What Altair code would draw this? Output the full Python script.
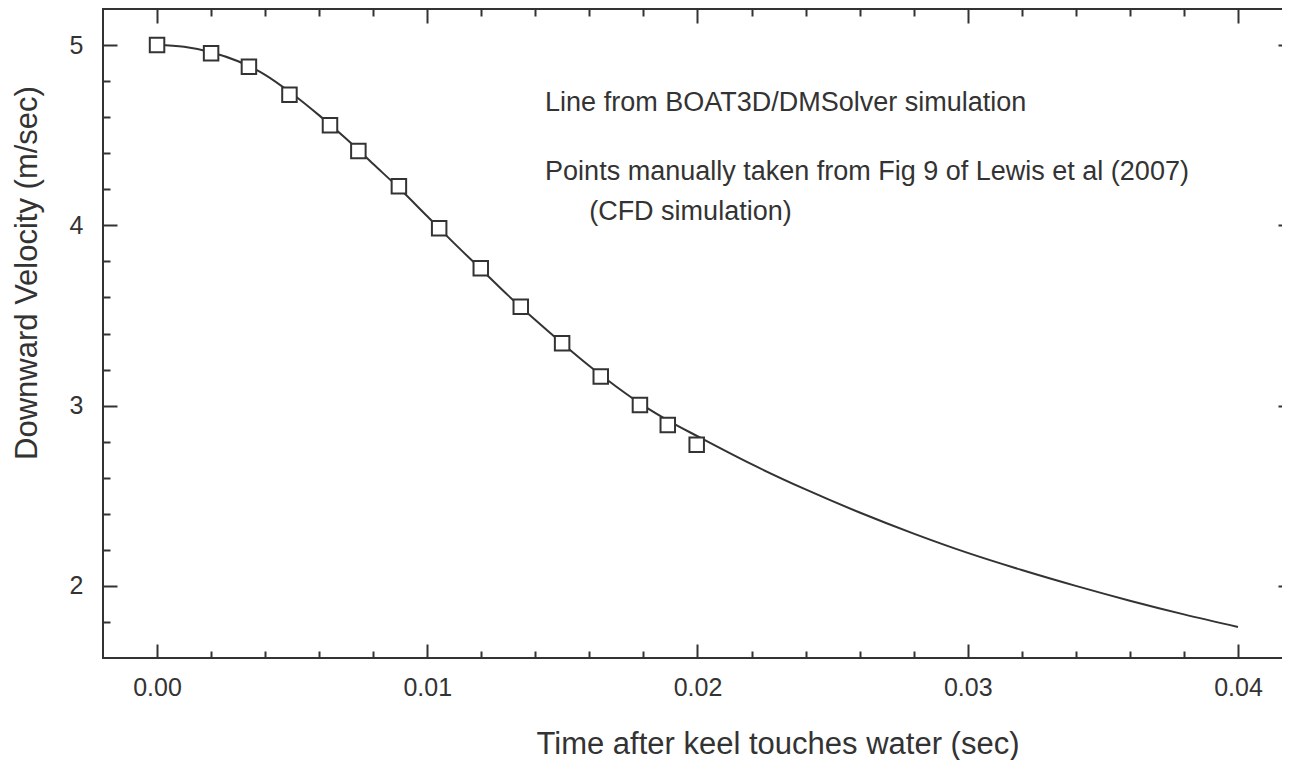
import altair as alt
import pandas as pd

# ---- data ----
line_t = [0.000, 0.001, 0.002, 0.003, 0.004, 0.005, 0.006, 0.007, 0.008, 0.009,
          0.010, 0.011, 0.012, 0.013, 0.014, 0.015, 0.016, 0.017, 0.018, 0.019,
          0.020, 0.022, 0.024, 0.026, 0.028, 0.030, 0.032, 0.034, 0.036, 0.038, 0.040]
line_v = [5.000, 4.990, 4.960, 4.910, 4.835, 4.730, 4.610, 4.480, 4.340, 4.200,
          4.050, 3.900, 3.755, 3.610, 3.475, 3.345, 3.220, 3.105, 3.000, 2.910,
          2.830, 2.675, 2.535, 2.407, 2.290, 2.183, 2.088, 2.000, 1.918, 1.842, 1.772]

point_t = [0.0000, 0.0020, 0.0034, 0.0049, 0.0064, 0.00745, 0.00895, 0.01044,
           0.01198, 0.01346, 0.01499, 0.01642, 0.01787, 0.0189, 0.01997]
point_v = [5.000, 4.954, 4.880, 4.725, 4.555, 4.412, 4.217, 3.984,
           3.762, 3.549, 3.346, 3.161, 3.004, 2.893, 2.783]

x_major = [0.00, 0.01, 0.02, 0.03, 0.04]
x_minor = [0.002, 0.004, 0.006, 0.008, 0.012, 0.014, 0.016, 0.018,
           0.022, 0.024, 0.026, 0.028, 0.032, 0.034, 0.036, 0.038]
y_major = [2, 3, 4, 5]
y_minor = [1.8, 2.2, 2.4, 2.6, 2.8, 3.2, 3.4, 3.6, 3.8, 4.2, 4.4, 4.6, 4.8]

note1_text = ["Line from BOAT3D/DMSolver simulation"]
note1_t = [0.01436]
note1_v = [4.634]
note2_text = ["Points manually taken from Fig 9 of Lewis et al (2007)", "(CFD simulation)"]
note2_t = [0.01436, 0.01599]
note2_v = [4.2515, 4.0296]

X_TITLE = "Time after keel touches water (sec)"
Y_TITLE = "Downward Velocity (m/sec)"

# ---- style ----
INK = "#333333"
FONT = "Liberation Sans"
W, H = 1189, 649
MAJ, MIN = 14, 7

xs = alt.Scale(domain=[-0.002, 0.042], nice=False, zero=False)
ys = alt.Scale(domain=[1.6, 5.2], nice=False, zero=False)

line_df = pd.DataFrame({"t": line_t, "v": line_v})
pt_df = pd.DataFrame({"t": point_t, "v": point_v})
n1_df = pd.DataFrame({"text": note1_text, "t": note1_t, "v": note1_v})
n2_df = pd.DataFrame({"text": note2_text, "t": note2_t, "v": note2_v})


def tick_axis(orient, values, size):
    return alt.Axis(orient=orient, values=values, tickSize=size, offset=-size,
                    labels=False, domain=False, grid=False, ticks=True)


x_bottom = alt.Axis(orient="bottom", values=x_major, tickSize=MAJ, offset=-MAJ,
                    domain=False, grid=False, format=".2f", labelFontSize=25,
                    labelPadding=17, labelFlush=False, labelOverlap=False,
                    title=X_TITLE, titleFontSize=31, titleX=674.5, titleY=109,
                    titleBaseline="alphabetic", titleAlign="center", titleAnchor="start")
y_left = alt.Axis(orient="left", values=y_major, tickSize=MAJ, offset=-MAJ,
                  domain=False, grid=False, format="d", labelFontSize=25,
                  labelPadding=20, labelFlush=False, labelOverlap=False,
                  title=Y_TITLE, titleFontSize=31, titleX=-81, titleY=263.5,
                  titleAngle=270, titleBaseline="alphabetic", titleAlign="center",
                  titleAnchor="start")

line = alt.Chart(line_df).mark_line(color=INK, strokeWidth=2, interpolate="monotone").encode(
    x=alt.X("t:Q", scale=xs, axis=x_bottom),
    y=alt.Y("v:Q", scale=ys, axis=y_left),
)

points = alt.Chart(pt_df).mark_point(shape="square", size=210, filled=False,
                                     fill="white", fillOpacity=1, color=INK,
                                     strokeWidth=2, opacity=1).encode(
    x=alt.X("t:Q", scale=xs, axis=tick_axis("bottom", x_minor, MIN), title=None),
    y=alt.Y("v:Q", scale=ys, axis=tick_axis("left", y_minor, MIN), title=None),
)

note1 = alt.Chart(n1_df).mark_text(align="left", baseline="alphabetic", font=FONT,
                                   fontSize=27, color=INK).encode(
    x=alt.X("t:Q", scale=xs, axis=tick_axis("top", x_major, MAJ), title=None),
    y=alt.Y("v:Q", scale=ys, axis=tick_axis("right", y_major, MAJ), title=None),
    text="text:N",
)

note2 = alt.Chart(n2_df).mark_text(align="left", baseline="alphabetic", font=FONT,
                                   fontSize=27, color=INK).encode(
    x=alt.X("t:Q", scale=xs, axis=tick_axis("top", x_minor, MIN), title=None),
    y=alt.Y("v:Q", scale=ys, axis=tick_axis("right", y_minor, MIN), title=None),
    text="text:N",
)

chart = alt.layer(line, points, note1, note2).resolve_axis(
    x="independent", y="independent"
).properties(
    width=W, height=H,
    autosize=alt.AutoSizeParams(type="none"),
    padding={"left": 95, "top": 1, "right": -10, "bottom": 102},
    background="white",
).configure_view(
    stroke=INK, strokeWidth=2
).configure_axis(
    tickColor=INK, tickWidth=2, labelColor=INK, labelFont=FONT,
    titleColor=INK, titleFont=FONT, titleFontWeight="normal",
)

chart.save("out.html", embed_options={"renderer": "svg", "actions": False})
